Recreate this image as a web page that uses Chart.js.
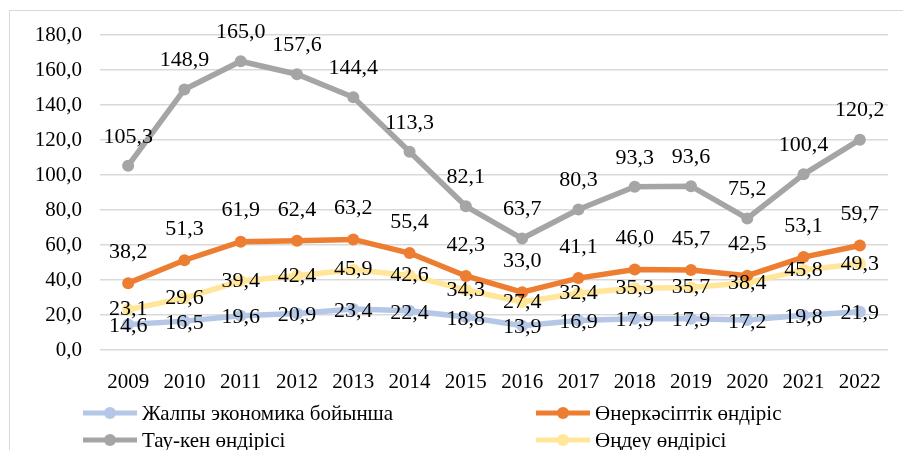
<!DOCTYPE html>
<html>
<head>
<meta charset="utf-8">
<script src="https://cdn.jsdelivr.net/npm/chart.js@4"></script>
<style>
  html, body { margin: 0; padding: 0; background: #fff; overflow: hidden; }
  #wrap { position: relative; width: 903px; height: 450px; }
</style>
</head>
<body>
<div id="wrap"><canvas id="indexChart" width="903" height="450"></canvas></div>
<script>
const years = ['2009', '2010', '2011', '2012', '2013', '2014', '2015', '2016', '2017', '2018', '2019', '2020', '2021', '2022'];
const seriesNames = ['Жалпы экономика бойынша', 'Өнеркәсіптік өндіріс', 'Тау-кен өндірісі', 'Өңдеу өндірісі'];
const economy = [14.6, 16.5, 19.6, 20.9, 23.4, 22.4, 18.8, 13.9, 16.9, 17.9, 17.9, 17.2, 19.8, 21.9];
const industry = [38.2, 51.3, 61.9, 62.4, 63.2, 55.4, 42.3, 33.0, 41.1, 46.0, 45.7, 42.5, 53.1, 59.7];
const mining = [105.3, 148.9, 165.0, 157.6, 144.4, 113.3, 82.1, 63.7, 80.3, 93.3, 93.6, 75.2, 100.4, 120.2];
const manufacturing = [23.1, 29.6, 39.4, 42.4, 45.9, 42.6, 34.3, 27.4, 32.4, 35.3, 35.7, 38.4, 45.8, 49.3];

const colors = ['#B4C7E7', '#ED7D31', '#A5A5A5', '#FFE699'];
const labelShift = [2, -31, -29, 0];
const FONT = '"Liberation Serif", "Times New Roman", "DejaVu Serif", serif';

const fmt = v => v.toFixed(1).replace('.', ',');

// frame, value labels and the two-column legend
const extras = {
  id: 'extras',
  beforeDraw(chart) {
    const ctx = chart.ctx;
    ctx.save();
    ctx.strokeStyle = '#d9d9d9';
    ctx.lineWidth = 1;
    ctx.strokeRect(9.5, 10.5, 1000, 1000);
    ctx.restore();
  },
  afterDatasetsDraw(chart) {
    const ctx = chart.ctx;
    ctx.save();
    ctx.font = '22px ' + FONT;
    ctx.fillStyle = '#000';
    ctx.textAlign = 'center';
    ctx.textBaseline = 'middle';
    chart.data.datasets.forEach((ds, i) => {
      chart.getDatasetMeta(i).data.forEach((pt, j) => {
        ctx.fillText(fmt(ds.data[j]), pt.x, pt.y + labelShift[i]);
      });
    });
    ctx.restore();
  },
  afterDraw(chart) {
    const ctx = chart.ctx;
    const cols = [83, 536];
    const rows = [413, 440];
    ctx.save();
    ctx.font = '21px ' + FONT;
    ctx.textBaseline = 'middle';
    chart.data.datasets.forEach((ds, i) => {
      const x = cols[i % 2];
      const y = rows[Math.floor(i / 2)];
      ctx.strokeStyle = colors[i];
      ctx.lineWidth = 5;
      ctx.beginPath();
      ctx.moveTo(x, y);
      ctx.lineTo(x + 54, y);
      ctx.stroke();
      ctx.fillStyle = colors[i];
      ctx.beginPath();
      ctx.arc(x + 27, y, 6, 0, Math.PI * 2);
      ctx.fill();
      ctx.fillStyle = '#000';
      ctx.fillText(ds.label, x + 59, y + 1);
    });
    ctx.restore();
  }
};

const datasets = [economy, industry, mining, manufacturing].map((data, i) => ({
  label: seriesNames[i],
  data: data,
  borderColor: colors[i],
  backgroundColor: colors[i],
  borderWidth: 5.5,
  pointRadius: 6,
  pointHoverRadius: 6,
  pointBorderWidth: 0,
  tension: 0
}));

new Chart(document.getElementById('indexChart'), {
  type: 'line',
  data: { labels: years, datasets: datasets },
  options: {
    responsive: false,
    animation: false,
    layout: { padding: { top: 35, right: 15, bottom: 60, left: 0 } },
    plugins: {
      legend: { display: false },
      tooltip: { enabled: false }
    },
    scales: {
      x: {
        offset: true,
        grid: { display: false },
        border: { display: false },
        ticks: { color: '#000', font: { family: FONT, size: 21 }, padding: 12, maxRotation: 0 },
        afterFit: s => { s.height = 40; }
      },
      y: {
        min: 0,
        max: 180,
        grid: { color: '#d9d9d9', lineWidth: 1.5, drawTicks: false },
        border: { display: false },
        ticks: {
          stepSize: 20,
          color: '#000',
          font: { family: FONT, size: 21 },
          padding: 18,
          callback: v => fmt(v)
        },
        afterFit: s => { s.width = 100; }
      }
    }
  },
  plugins: [extras]
});
</script>
</body>
</html>
